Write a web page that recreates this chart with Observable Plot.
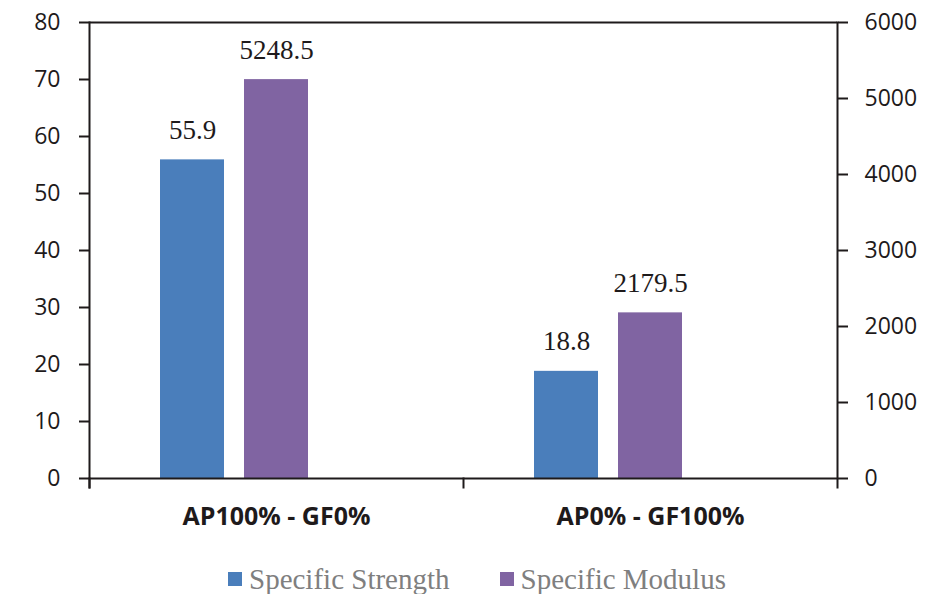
<!DOCTYPE html>
<html>
<head>
<meta charset="utf-8">
<script src="https://cdn.jsdelivr.net/npm/d3@7"></script>
<script src="https://cdn.jsdelivr.net/npm/@observablehq/plot@0.6"></script>
<style>
  html, body { margin: 0; padding: 0; background: #fff; overflow: hidden; }
  #chart { width: 930px; }
  .legend { display: flex; align-items: center; height: 42px; padding-top: 6px; padding-left: 228px;
            font-family: "Liberation Serif", "Times New Roman", serif; font-size: 29px; color: #7f7f7f; }
  .legend .item { display: flex; align-items: center; line-height: 29px; }
  .legend .item + .item { margin-left: 50px; }
  .legend .sw { width: 14px; height: 14px; margin-right: 7px; }
</style>
</head>
<body>
<div id="chart"></div>
<script>
// Mix compositions on the category axis
const categories = ["AP100% - GF0%", "AP0% - GF100%"];
// The two measured properties
const series = ["Specific Strength", "Specific Modulus"];
const specificStrength = [55.9, 18.8];     // left axis
const specificModulus = [5248.5, 2179.5];  // right axis
const leftTicks = [0, 10, 20, 30, 40, 50, 60, 70, 80];
const rightTicks = [0, 1000, 2000, 3000, 4000, 5000, 6000];
const colors = ["#4a7ebb", "#8064a2"];

const leftMax = 80;
const rightMax = 6000;
// Right-axis values share the left scale through this factor
const k = leftMax / rightMax;

const rows = [];
categories.forEach((c, i) => {
  rows.push({category: c, series: series[0], value: specificStrength[i], plotted: specificStrength[i]});
  rows.push({category: c, series: series[1], value: specificModulus[i], plotted: specificModulus[i] * k});
});

const ink = "#1e1a1b";
const sans = "'Open Sans', sans-serif";

const chart = Plot.plot({
  width: 930,
  height: 552,
  marginLeft: 88,
  marginRight: 93,
  marginTop: 22,
  marginBottom: 74,
  style: {fontFamily: sans, fontSize: "23px", color: ink, background: "#fff"},
  fx: {domain: categories, padding: 0, label: null, axis: null},
  x: {domain: series, paddingInner: 0.24, paddingOuter: 1.346, align: 0.314, axis: null},
  y: {domain: [0, leftMax], axis: null},
  color: {domain: series, range: colors},
  marks: [
    Plot.barY(rows, {fx: "category", x: "series", y: "plotted", fill: "series", inset: 0}),
    Plot.text(rows, {
      fx: "category", x: "series", y: "plotted", text: d => d.value.toFixed(1),
      lineAnchor: "bottom", dy: -21,
      fontFamily: "'Liberation Serif', 'Times New Roman', serif", fontSize: 27, fill: ink
    }),
    // top and bottom edges of the plot frame
    Plot.ruleY([0, leftMax], {stroke: ink, strokeWidth: 2}),
    // left and right edges, extended below the baseline
    Plot.frame({anchor: "left", facetAnchor: "left", stroke: ink, strokeWidth: 2, insetBottom: -9}),
    Plot.frame({anchor: "right", facetAnchor: "right", stroke: ink, strokeWidth: 2, insetBottom: -9}),
    // divider tick between the two categories
    Plot.frame({anchor: "left", stroke: ink, strokeWidth: 2, insetTop: 456, insetBottom: -9}),
    Plot.axisY(leftTicks, {
      anchor: "left", tickSize: 10, tickPadding: 19, strokeWidth: 2, color: ink, label: null,
      fontFamily: sans, fontSize: 23
    }),
    Plot.axisY(rightTicks.map(t => t * k), {
      anchor: "right", tickSize: 10, tickPadding: 17, strokeWidth: 2, color: ink, label: null,
      fontFamily: sans, fontSize: 23,
      tickFormat: t => String(Math.round(t / k))
    }),
    Plot.axisFx({
      anchor: "bottom", tickSize: 0, tickPadding: 29, fontWeight: "bold", color: ink, label: null,
      fontFamily: sans, fontSize: 25
    })
  ]
});

document.getElementById("chart").appendChild(chart);

// Legend below the plot
const legend = d3.select("#chart").append("div").attr("class", "legend");
series.forEach((s, i) => {
  const item = legend.append("div").attr("class", "item");
  item.append("div").attr("class", "sw").style("background", colors[i]);
  item.append("span").text(s);
});
</script>
</body>
</html>
